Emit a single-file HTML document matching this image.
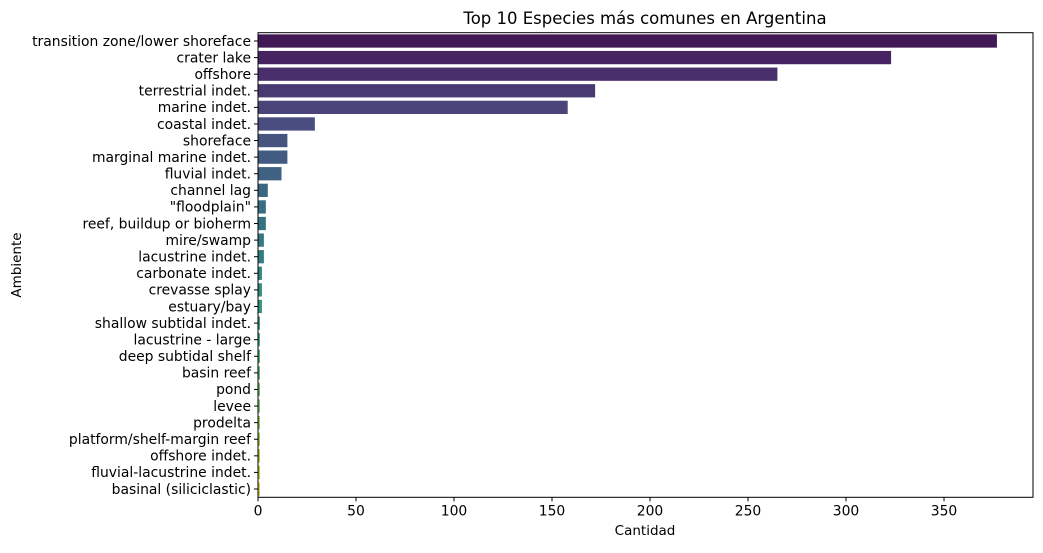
<!DOCTYPE html>
<html><head><meta charset="utf-8"><style>
body{margin:0;background:#fff;}
svg text{font-family:"DejaVu Sans","Liberation Sans",sans-serif;fill:#000;}
</style></head><body>
<svg id="chart" width="1043" height="548" xmlns="http://www.w3.org/2000/svg">
<text x="645" y="24" font-size="16.5" text-anchor="middle">Top 10 Especies más comunes en Argentina</text>
<text x="645" y="535" font-size="13.5" text-anchor="middle">Cantidad</text>
<text x="21" y="265" font-size="13.5" text-anchor="middle" transform="rotate(-90 21 265)">Ambiente</text>
<g id="bars"></g><g id="yticks"></g><g id="xticks"></g>
<rect x="258" y="32.7" width="775" height="464.6" fill="none" stroke="#000" stroke-width="1"/>
</svg>
<script>
const categories=["transition zone/lower shoreface","crater lake","offshore","terrestrial indet.","marine indet.","coastal indet.","shoreface","marginal marine indet.","fluvial indet.","channel lag","\"floodplain\"","reef, buildup or bioherm","mire/swamp","lacustrine indet.","carbonate indet.","crevasse splay","estuary/bay","shallow subtidal indet.","lacustrine - large","deep subtidal shelf","basin reef","pond","levee","prodelta","platform/shelf-margin reef","offshore indet.","fluvial-lacustrine indet.","basinal (siliciclastic)"];
const counts=[377,323,265,172,158,29,15,15,12,5,4,4,3,3,2,2,2,1,1,1,1,1,1,1,1,1,1,1];
const xTicks=[0,50,100,150,200,250,300,350];
const L=258,R=1033,T=32.7,B=497.3,XMAX=395.4;
const NS="http://www.w3.org/2000/svg";
const xs=v=>L+(v/XMAX)*(R-L);
const band=(B-T)/categories.length;
const yc=i=>T+band*(i+0.5);
const stops=["#440154","#482475","#414487","#355f8d","#2a788e","#21918c","#22a884","#44bf70","#7ad151","#bddf26","#fde725"];
function hex(h){return [1,3,5].map(k=>parseInt(h.substr(k,2),16)/255);}
function viridis(t){const p=t*10,i=Math.min(9,Math.floor(p)),f=p-i;const a=hex(stops[i]),b=hex(stops[i+1]);return a.map((v,k)=>v+(b[k]-v)*f);}
function desat(c,s){const mx=Math.max(...c),mn=Math.min(...c),l=(mx+mn)/2;let h=0,sat=0;if(mx!==mn){const d=mx-mn;sat=l>0.5?d/(2-mx-mn):d/(mx+mn);if(mx===c[0])h=((c[1]-c[2])/d+(c[1]<c[2]?6:0));else if(mx===c[1])h=(c[2]-c[0])/d+2;else h=(c[0]-c[1])/d+4;h/=6;}sat*=s;
const q=l<0.5?l*(1+sat):l+sat-l*sat,p=2*l-q;const f=t=>{t=(t+1)%1;if(t<1/6)return p+(q-p)*6*t;if(t<0.5)return q;if(t<2/3)return p+(q-p)*(2/3-t)*6;return p;};
return [f(h+1/3),f(h),f(h-1/3)];}
const n=categories.length;
const gb=document.getElementById('bars'),gy=document.getElementById('yticks'),gx=document.getElementById('xticks');
categories.forEach((c,i)=>{
 const col=desat(viridis((i+1)/(n+1)),0.75).map(v=>Math.round(v*255));
 const r=document.createElementNS(NS,'rect');
 r.setAttribute('x',L);r.setAttribute('y',yc(i)-band*0.4);
 r.setAttribute('width',xs(counts[i])-L);r.setAttribute('height',band*0.8);
 r.setAttribute('fill','rgb('+col.join(',')+')');
 
 
 gb.appendChild(r);
 const tk=document.createElementNS(NS,'line');
 tk.setAttribute('x1',L-4);tk.setAttribute('x2',L);tk.setAttribute('y1',yc(i));tk.setAttribute('y2',yc(i));tk.setAttribute('stroke','#000');
 
 
 gy.appendChild(tk);
 const t=document.createElementNS(NS,'text');
 t.setAttribute('x',L-7);t.setAttribute('y',yc(i)+4.8);t.setAttribute('text-anchor','end');t.setAttribute('font-size','13.9');
 t.textContent=c;
 
 
 gy.appendChild(t);
});
xTicks.forEach(v=>{
 const tk=document.createElementNS(NS,'line');
 tk.setAttribute('x1',xs(v));tk.setAttribute('x2',xs(v));tk.setAttribute('y1',B);tk.setAttribute('y2',B+4);tk.setAttribute('stroke','#000');
 
 
 gx.appendChild(tk);
 const t=document.createElementNS(NS,'text');
 t.setAttribute('x',xs(v));t.setAttribute('y',B+18);t.setAttribute('text-anchor','middle');t.setAttribute('font-size','13.9');
 t.textContent=v;
 
 
 gx.appendChild(t);
});
</script>
</body></html>
